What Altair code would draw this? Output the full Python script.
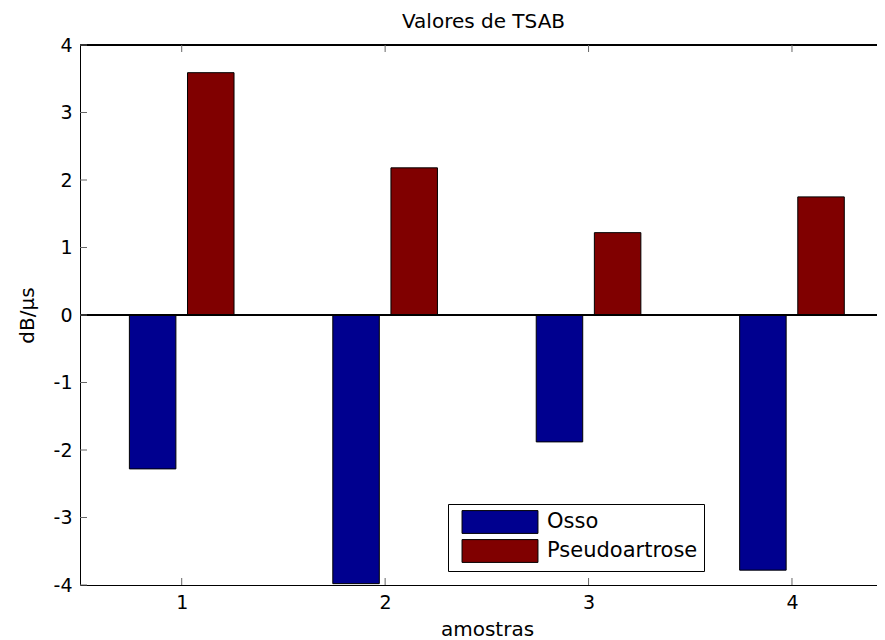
import altair as alt
import pandas as pd

# ---- data ----
samples = [1, 2, 3, 4]
osso = [-2.28, -3.98, -1.88, -3.78]
pseudo = [3.59, 2.18, 1.22, 1.75]
series_names = ["Osso", "Pseudoartrose"]
series_colors = ["#00008F", "#800000"]
y_ticks = [-4, -3, -2, -1, 0, 1, 2, 3, 4]
x_ticks = [1, 2, 3, 4]

rows = []
for s, v in zip(samples, osso):
    rows.append({"amostra": s, "serie": "Osso", "valor": v})
for s, v in zip(samples, pseudo):
    rows.append({"amostra": s, "serie": "Pseudoartrose", "valor": v})
df = pd.DataFrame(rows)
xt = pd.DataFrame({"t": x_ticks})
yt = pd.DataFrame({"t": y_ticks})

FONT = "DejaVu Sans"
xscale = alt.Scale(domain=[0.5, 4.418], nice=False, zero=False)
yscale = alt.Scale(domain=[-4, 4], nice=False, zero=False)

bars = alt.Chart(df).transform_calculate(
    off="(datum.serie == 'Osso' ? -1 : 1) * 0.1429"
).transform_calculate(
    x0="datum.amostra + datum.off - 0.1143",
    x1="datum.amostra + datum.off + 0.1143",
).mark_rect(stroke="black", strokeWidth=1).encode(
    x=alt.X("x0:Q", scale=xscale,
            axis=alt.Axis(values=x_ticks, title="amostras", tickSize=0,
                          labelFontSize=19, labelFont=FONT, labelColor="black",
                          labelPadding=8, labelExpr="'' + datum.value",
                          titleFont=FONT, titleFontSize=20,
                          titleFontWeight="normal", titleColor="black",
                          titlePadding=7, titleX=407, grid=False,
                          domainColor="black", domainWidth=1)),
    x2="x1:Q",
    y=alt.Y("valor:Q", scale=yscale,
            axis=alt.Axis(values=y_ticks, title="dB/µs", tickSize=0,
                          labelFontSize=19, labelFont=FONT, labelColor="black",
                          labelPadding=8, labelExpr="'' + datum.value",
                          titleFont=FONT, titleFontSize=20, titleFontWeight="normal",
                          titleColor="black", titlePadding=16, grid=False,
                          domainColor="black", domainWidth=1)),
    y2=alt.datum(0),
    color=alt.Color("serie:N",
                    scale=alt.Scale(domain=series_names, range=series_colors),
                    legend=alt.Legend(title=None, orient="none", legendX=368, legendY=459,
                                      strokeColor="black", fillColor="white", padding=6,
                                      symbolType="M-3.33,-1H3.33V1H-3.33Z", symbolSize=520,
                                      symbolStrokeColor="black", symbolStrokeWidth=1,
                                      symbolOpacity=1, symbolOffset=34,
                                      labelFont=FONT, labelFontSize=21, labelColor="black",
                                      labelOffset=35, rowPadding=1, cornerRadius=0)),
)

zero_line = alt.Chart(df).mark_rule(color="black", strokeWidth=1).encode(y=alt.datum(0))
top_line = alt.Chart(df).mark_rule(color="black", strokeWidth=1).encode(
    y=alt.datum(4, scale=yscale))

tick_color = "#666666"
x_ticks_bottom = alt.Chart(xt).mark_rule(color=tick_color, strokeWidth=1).encode(
    x=alt.X("t:Q", scale=xscale), y=alt.value(540), y2=alt.value(533))
x_ticks_top = alt.Chart(xt).mark_rule(color=tick_color, strokeWidth=1).encode(
    x=alt.X("t:Q", scale=xscale), y=alt.value(0), y2=alt.value(7))
y_ticks_left = alt.Chart(yt).mark_rule(color=tick_color, strokeWidth=1).encode(
    y=alt.Y("t:Q", scale=yscale), x=alt.value(0), x2=alt.value(7))

chart = alt.layer(bars, zero_line, top_line, x_ticks_bottom, x_ticks_top, y_ticks_left).properties(
    width=797, height=540,
    title=alt.TitleParams("Valores de TSAB", font=FONT, fontSize=20, fontWeight="normal",
                          color="black", offset=4, dx=5),
    padding={"left": 72, "top": 37, "right": 0, "bottom": 55},
    autosize=alt.AutoSizeParams(type="none"),
    background="white",
).configure_view(stroke=None)

chart.save("out.html", embed_options={"renderer": "svg", "actions": False})
